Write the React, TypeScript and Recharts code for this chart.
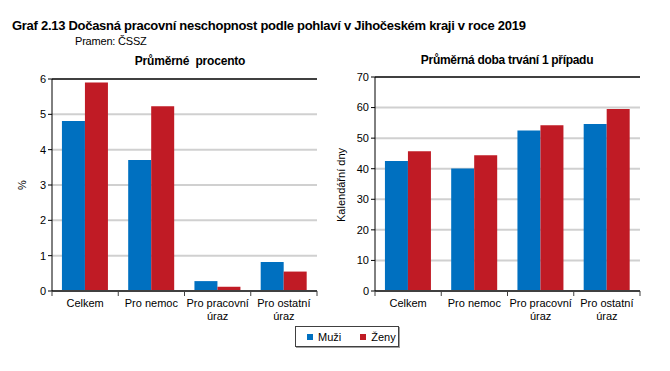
import { BarChart, Bar, XAxis, YAxis, CartesianGrid, ReferenceLine } from "recharts";

const categories = ["Celkem", "Pro nemoc", "Pro pracovní úraz", "Pro ostatní úraz"];
const percentMuzi = [4.81, 3.71, 0.28, 0.82];
const percentZeny = [5.9, 5.23, 0.12, 0.55];
const daysMuzi = [42.5, 40.1, 52.5, 54.6];
const daysZeny = [45.7, 44.4, 54.2, 59.5];
const percentTicks = [0, 1, 2, 3, 4, 5, 6];
const daysTicks = [0, 10, 20, 30, 40, 50, 60, 70];

const BLUE = "#0070C0";
const RED = "#C01B25";
const FONT = "'Liberation Sans', Arial, sans-serif";
const PLOT_W = 265;

const percentData = categories.map((c, i) => ({ cat: c, muzi: percentMuzi[i], zeny: percentZeny[i] }));
const daysData = categories.map((c, i) => ({ cat: c, muzi: daysMuzi[i], zeny: daysZeny[i] }));

function CatTick(props: any) {
  const { x, y, payload, index } = props;
  const band = PLOT_W / categories.length;
  const words: string[] = String(payload.value).split(" ");
  const lines = words.length > 2 ? [words.slice(0, 2).join(" "), words.slice(2).join(" ")] : [words.join(" ")];
  return (
    <g>
      <line x1={x - band / 2} x2={x - band / 2} y1={y - 8} y2={y - 3} stroke="#404040" />
      {index === categories.length - 1 && (
        <line x1={x + band / 2} x2={x + band / 2} y1={y - 8} y2={y - 3} stroke="#404040" />
      )}
      {lines.map((l, i) => (
        <text key={i} x={x} y={y + 8 + i * 13} textAnchor="middle" fontSize={11} fill="#000" fontFamily={FONT}>
          {l}
        </text>
      ))}
    </g>
  );
}

function Panel(props: { data: any[]; ticks: number[]; max: number; yWidth: number; right: number; top: number }) {
  const { data, ticks, max, yWidth, right, top } = props;
  return (
    <BarChart
      width={yWidth + PLOT_W + right}
      height={330}
      data={data}
      margin={{ top, right, left: 0, bottom: 0 }}
      barCategoryGap="15%"
      barGap={0}
    >
      <CartesianGrid vertical={false} stroke="#d0d0d0" strokeWidth={2} />
      <XAxis
        dataKey="cat"
        tick={<CatTick />}
        tickLine={false}
        axisLine={{ stroke: "#404040", strokeWidth: 2 }}
        interval={0}
        height={39}
      />
      <YAxis
        domain={[0, max]}
        ticks={ticks}
        width={yWidth}
        tick={{ fill: "#000", fontSize: 11, fontFamily: FONT }}
        tickSize={4}
        tickLine={{ stroke: "#000" }}
        axisLine={{ stroke: "#000" }}
        interval={0}
      />
      <YAxis yAxisId="r" orientation="right" width={0} tick={false} axisLine={{ stroke: "#000" }} />
      <ReferenceLine y={max} stroke="#404040" strokeWidth={2} />
      <Bar dataKey="muzi" fill={BLUE} isAnimationActive={false} />
      <Bar dataKey="zeny" fill={RED} isAnimationActive={false} />
    </BarChart>
  );
}

export default function App() {
  const txt: React.CSSProperties = { position: "absolute", fontFamily: FONT, color: "#000", whiteSpace: "nowrap" };
  return (
    <div style={{ position: "absolute", left: 0, top: 0, width: 670, height: 371, background: "#fff", overflow: "hidden" }}>
      <div style={{ ...txt, left: 12, top: 18, fontSize: 13, fontWeight: "bold", letterSpacing: -0.28 }}>
        Graf 2.13 Dočasná pracovní neschopnost podle pohlaví v Jihočeském kraji v roce 2019
      </div>
      <div style={{ ...txt, left: 75, top: 35, fontSize: 11, letterSpacing: -0.2 }}>Pramen: ČSSZ</div>
      <div style={{ ...txt, left: 90, width: 200, textAlign: "center", top: 54, fontSize: 12, fontWeight: "bold", letterSpacing: -0.2 }}>
        Průměrné&nbsp; procento
      </div>
      <div style={{ ...txt, left: 407, width: 200, textAlign: "center", top: 53, fontSize: 12, fontWeight: "bold", letterSpacing: -0.3 }}>
        Průměrná doba trvání 1 případu
      </div>
      <div style={{ position: "absolute", left: 0, top: 0 }}>
        <Panel data={percentData} ticks={percentTicks} max={6} yWidth={52} right={13} top={79} />
      </div>
      <div style={{ position: "absolute", left: 330, top: 0 }}>
        <Panel data={daysData} ticks={daysTicks} max={70} yWidth={45} right={30} top={77} />
      </div>
      <div style={{ ...txt, left: 22, top: 185, fontSize: 11, transform: "translate(-50%, -50%) rotate(-90deg)" }}>%</div>
      <div style={{ ...txt, left: 341, top: 185, fontSize: 11, transform: "translate(-50%, -50%) rotate(-90deg)" }}>
        Kalendářní dny
      </div>
      <div
        style={{
          position: "absolute",
          left: 295,
          top: 326,
          width: 102,
          height: 19,
          border: "1px solid #404040",
          boxShadow: "1px 1px 0 #a0a0a0",
          fontFamily: FONT,
          fontSize: 11,
          display: "flex",
          alignItems: "center",
        }}
      >
        <span style={{ width: 6, height: 6, background: BLUE, marginLeft: 11, marginRight: 5 }} />
        <span>Muži</span>
        <span style={{ width: 6, height: 6, background: RED, marginLeft: 19, marginRight: 5 }} />
        <span>Ženy</span>
      </div>
    </div>
  );
}
